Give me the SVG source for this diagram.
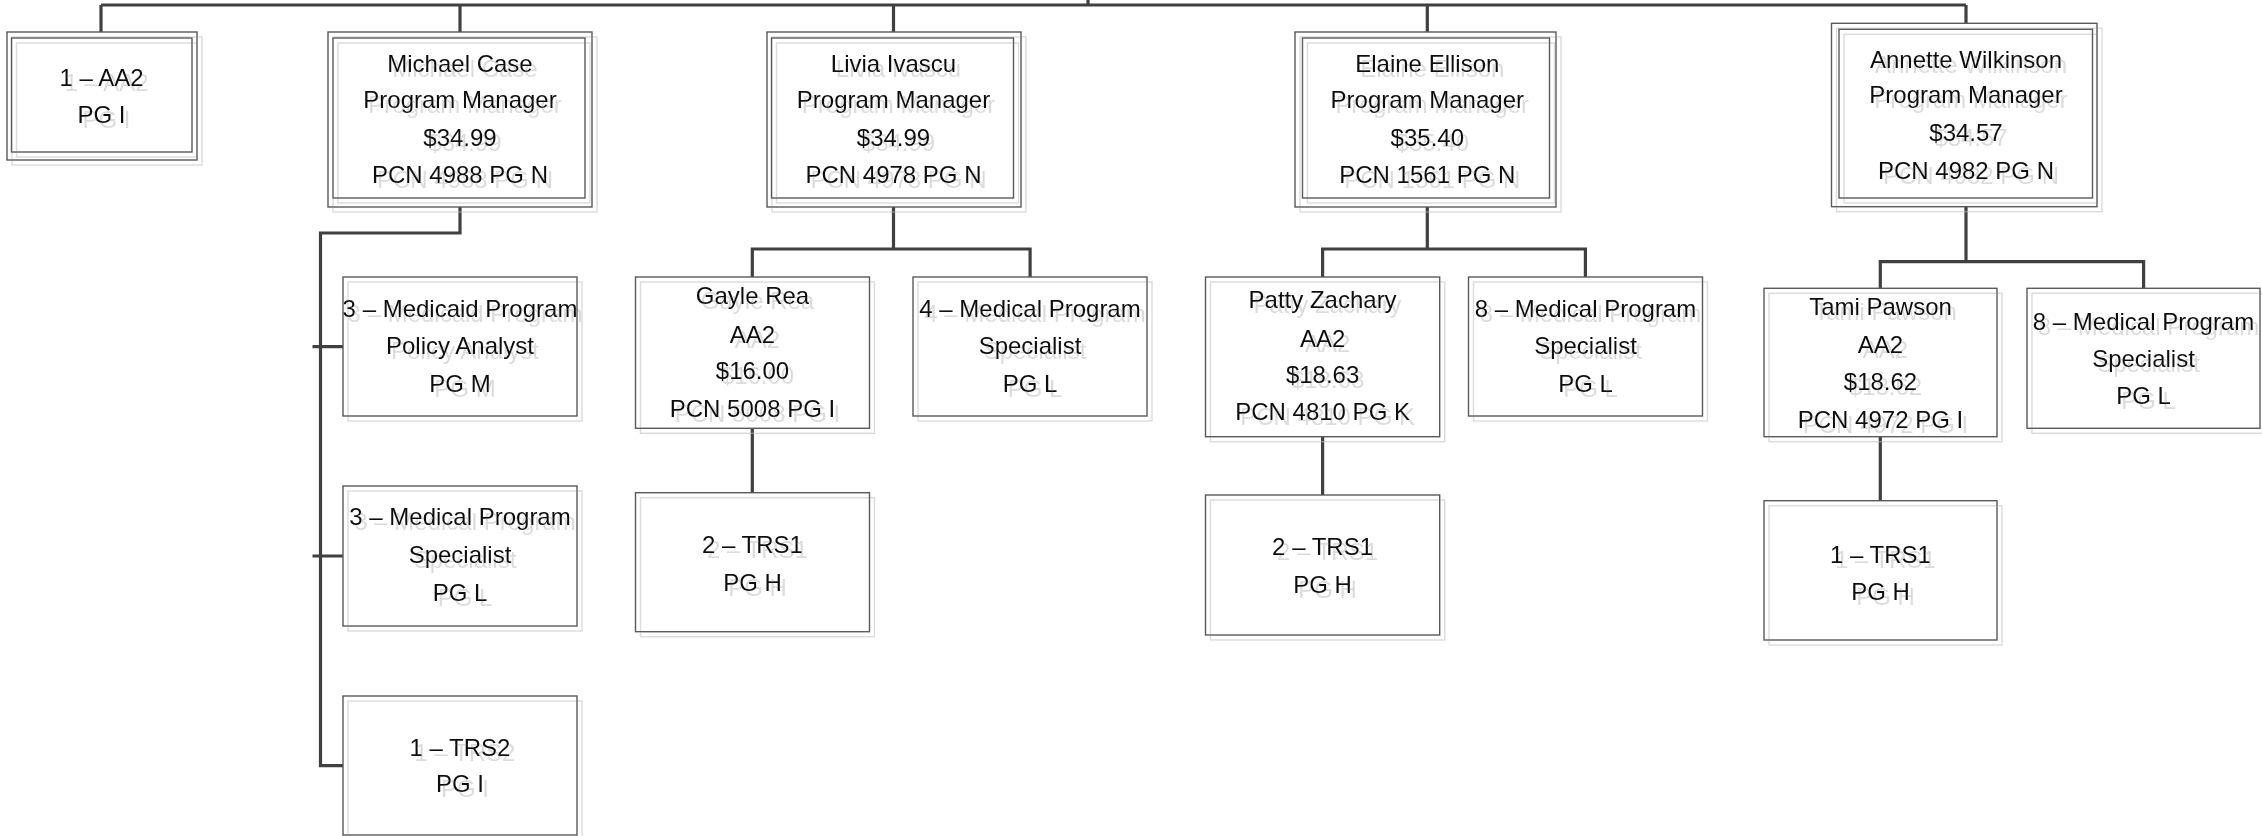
<svg xmlns="http://www.w3.org/2000/svg" width="2262" height="836" viewBox="0 0 2262 836">
<defs>
<filter id="sh" x="-10%" y="-10%" width="125%" height="130%">
<feDropShadow dx="5" dy="5" stdDeviation="0.5" flood-color="#bdbdbd" flood-opacity="0.55"/>
</filter>
</defs>
<style>
rect{fill:none;stroke:#5a5a5a;stroke-width:1.4}
text{font-family:"Liberation Sans",Arial,sans-serif;font-size:24px;fill:#111;text-anchor:middle}
.c{fill:none;stroke:#404040;stroke-width:3.2;stroke-linejoin:miter;stroke-linecap:butt}
.n{filter:url(#sh)}
</style>
<rect x="0" y="0" width="2262" height="836" style="fill:#fff;stroke:none"/>
<g id="connectors">
<path class="c" d="M1088 0V5M101 5H1966M101 5V32M460 5V32M893.5 5V32M1427.3 5V32M1966 5V23.3"/>
<path class="c" d="M460 207V233H320.5V765.7H343M312.5 346.7H343M312.5 556H343"/>
<path class="c" d="M893.5 207V249M752.3 277V249H1030.1V277M752.3 428.3V492.7"/>
<path class="c" d="M1427.3 207V249M1322.6 277V249H1585.4V277M1322.6 436.7V495"/>
<path class="c" d="M1966 207V261.7M1880.3 288.3V261.7H2143.6V288.3M1880.3 436.7V500.7"/>
</g>
<g id="aa2" class="n">
<rect x="7" y="32" width="190" height="128"/>
<rect x="11.5" y="38" width="180.5" height="114"/>
<text x="101.5" y="86">1 – AA2</text>
<text x="101.5" y="123">PG I</text>
</g>
<g id="michael" class="n">
<rect x="328" y="32" width="264" height="175"/>
<rect x="333" y="38" width="252" height="160"/>
<text x="460" y="71.7">Michael Case</text>
<text x="460" y="108.3">Program Manager</text>
<text x="460" y="145.7">$34.99</text>
<text x="460" y="183.3">PCN 4988 PG N</text>
</g>
<g id="livia" class="n">
<rect x="767" y="32" width="254" height="175"/>
<rect x="771.5" y="38" width="242" height="160"/>
<text x="893.5" y="71.7">Livia Ivascu</text>
<text x="893.5" y="108.3">Program Manager</text>
<text x="893.5" y="145.7">$34.99</text>
<text x="893.5" y="183.3">PCN 4978 PG N</text>
</g>
<g id="elaine" class="n">
<rect x="1295" y="32" width="261" height="175"/>
<rect x="1302.5" y="38" width="247" height="160"/>
<text x="1427.3" y="71.7">Elaine Ellison</text>
<text x="1427.3" y="108.3">Program Manager</text>
<text x="1427.3" y="145.7">$35.40</text>
<text x="1427.3" y="183.3">PCN 1561 PG N</text>
</g>
<g id="annette" class="n">
<rect x="1831.5" y="23.3" width="265.5" height="183.4"/>
<rect x="1839" y="29.3" width="253.5" height="168.7"/>
<text x="1966" y="68.3">Annette Wilkinson</text>
<text x="1966" y="103.3">Program Manager</text>
<text x="1966" y="141">$34.57</text>
<text x="1966" y="179.3">PCN 4982 PG N</text>
</g>
<g id="medicaid" class="n">
<rect x="343" y="277" width="234" height="139"/>
<text x="460" y="316.7">3 – Medicaid Program</text>
<text x="460" y="354.3">Policy Analyst</text>
<text x="460" y="391.7">PG M</text>
</g>
<g id="medspec3" class="n">
<rect x="343" y="486" width="234" height="140"/>
<text x="460" y="525">3 – Medical Program</text>
<text x="460" y="563.3">Specialist</text>
<text x="460" y="600.7">PG L</text>
</g>
<g id="trs2" class="n">
<rect x="343" y="696" width="234" height="139"/>
<text x="460" y="756">1 – TRS2</text>
<text x="460" y="792.3">PG I</text>
</g>
<g id="gayle" class="n">
<rect x="635.5" y="277" width="234" height="151.3"/>
<text x="752.5" y="304.3">Gayle Rea</text>
<text x="752.5" y="342.7">AA2</text>
<text x="752.5" y="379.3">$16.00</text>
<text x="752.5" y="416.7">PCN 5008 PG I</text>
</g>
<g id="trs1a" class="n">
<rect x="635.5" y="492.7" width="234" height="139"/>
<text x="752.5" y="552.7">2 – TRS1</text>
<text x="752.5" y="591">PG H</text>
</g>
<g id="medspec4" class="n">
<rect x="913" y="277" width="234" height="139"/>
<text x="1030" y="316.7">4 – Medical Program</text>
<text x="1030" y="354">Specialist</text>
<text x="1030" y="391.7">PG L</text>
</g>
<g id="patty" class="n">
<rect x="1205.5" y="277" width="234.2" height="159.7"/>
<text x="1322.6" y="308.3">Patty Zachary</text>
<text x="1322.6" y="346.7">AA2</text>
<text x="1322.6" y="382.7">$18.63</text>
<text x="1322.6" y="420">PCN 4810 PG K</text>
</g>
<g id="trs1b" class="n">
<rect x="1205.5" y="495" width="234.2" height="140"/>
<text x="1322.6" y="555">2 – TRS1</text>
<text x="1322.6" y="593.3">PG H</text>
</g>
<g id="medspec8a" class="n">
<rect x="1468.5" y="277" width="234" height="139"/>
<text x="1585.5" y="316.7">8 – Medical Program</text>
<text x="1585.5" y="354">Specialist</text>
<text x="1585.5" y="391.7">PG L</text>
</g>
<g id="tami" class="n">
<rect x="1764" y="288.3" width="233" height="148.4"/>
<text x="1880.5" y="315">Tami Pawson</text>
<text x="1880.5" y="352.7">AA2</text>
<text x="1880.5" y="390">$18.62</text>
<text x="1880.5" y="428.3">PCN 4972 PG I</text>
</g>
<g id="trs1c" class="n">
<rect x="1764" y="500.7" width="233" height="139.3"/>
<text x="1880.5" y="563.3">1 – TRS1</text>
<text x="1880.5" y="600">PG H</text>
</g>
<g id="medspec8b" class="n">
<rect x="2027" y="288.3" width="233" height="140"/>
<text x="2143.5" y="330">8 – Medical Program</text>
<text x="2143.5" y="367.3">Specialist</text>
<text x="2143.5" y="404.3">PG L</text>
</g>
</svg>
